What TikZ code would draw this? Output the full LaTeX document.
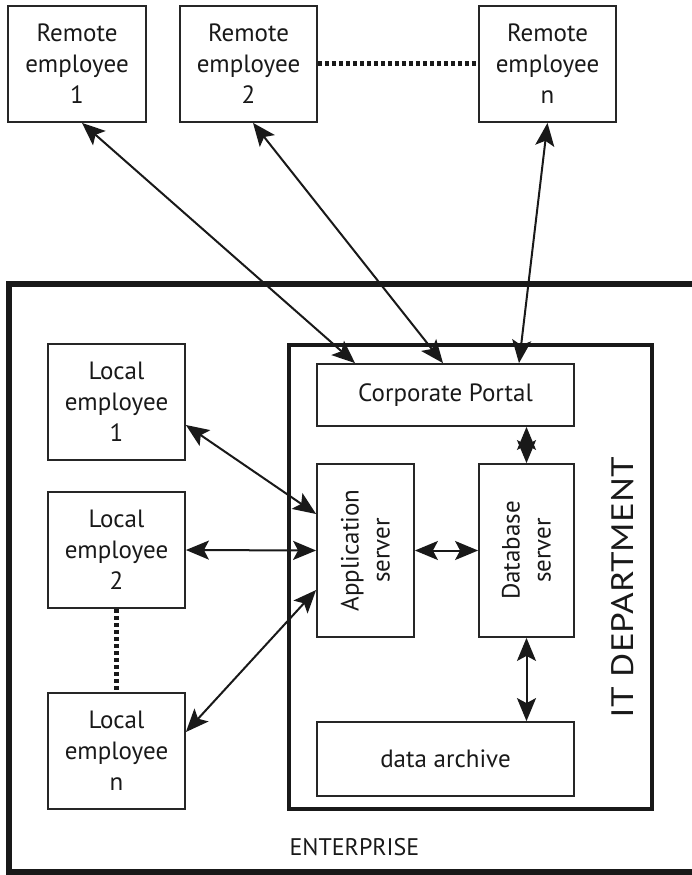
\documentclass[tikz,border=0pt]{standalone}
\usepackage{fontspec}
\setmainfont{PT Sans}
\usetikzlibrary{arrows.meta}
\begin{document}
\begin{tikzpicture}[x=1pt,y=-1pt,
  lbl/.style={font=\fontsize{25}{31}\selectfont, text=black!90, align=center},
  unit/.style={lbl, draw=black!85, line width=1.8pt, inner sep=0pt},
  link/.style={line width=2pt, draw=black!90,
    {Stealth[length=23pt,width=19pt,inset=5pt]}-{Stealth[length=23pt,width=19pt,inset=5pt]}},
  dots/.style={line width=5pt, dash pattern=on 4pt off 3pt, draw=black!90}
]
\useasboundingbox (0,0) rectangle (691,875);

% enterprise frame, open on the right
\draw[line width=6pt, black!90] (700,283.5) -- (9,283.5) -- (9,872) -- (700,872);
\node[lbl, anchor=west, font=\fontsize{24}{30}\selectfont] (ent) at (286,847) {ENTERPRISE};

% IT department frame
\draw[line width=4pt, black!90] (289,345) rectangle (652,809);
\node[lbl, rotate=90, font=\fontsize{31}{36}\selectfont\addfontfeatures{FakeStretch=1.2}] (itd) at (623,588) {IT DEPARTMENT};

% remote employees
\node[unit, minimum width=138pt, minimum height=116pt] (r1) at (77,64) {Remote\\employee\\1};
\node[unit, minimum width=137pt, minimum height=116pt] (r2) at (248.5,64) {Remote\\employee\\2};
\node[unit, minimum width=137pt, minimum height=116pt] (rn) at (547.5,64) {Remote\\employee\\n};

% local employees
\node[unit, minimum width=137pt, minimum height=116pt] (l1) at (116.5,402) {Local\\employee\\1};
\node[unit, minimum width=137pt, minimum height=116pt] (l2) at (116.5,550) {Local\\employee\\2};
\node[unit, minimum width=137pt, minimum height=116pt] (ln) at (116.5,751) {Local\\employee\\n};

% IT department units
\node[unit, minimum width=257pt, minimum height=62pt] (portal) at (445.5,395) {Corporate Portal};
\node[unit, minimum width=97pt, minimum height=173pt] (app) at (365.5,550.5) {};
\node[lbl, rotate=90] (apptxt) at (app.center) {Application\\server};
\node[unit, minimum width=95pt, minimum height=173pt] (db) at (526.5,550.5) {};
\node[lbl, rotate=90] (dbtxt) at (db.center) {Database\\server};
\node[unit, minimum width=257pt, minimum height=74pt] (arch) at (445.5,759) {data archive};

% "and so on" dotted links
\draw[dots] (r2.east) -- (rn.west);
\draw[dots] (l2.south) -- (ln.north);

% remote access through the portal
\draw[link] ([xshift=5pt]r1.south) -- ([xshift=-90.5pt]portal.north);
\draw[link] ([xshift=4.5pt]r2.south) -- ([xshift=-2.5pt]portal.north);
\draw[link] (rn.south) -- ([xshift=73.5pt]portal.north);

% local access to the application server
\draw[link] ([yshift=-23pt]l1.east) -- ([yshift=36.5pt]app.west);
\draw[link] (l2.east) -- (app.west);
\draw[link] ([yshift=19pt]ln.east) -- ([yshift=-39.5pt]app.west);

% internal links
\draw[link] (app.east) -- (db.west);
\draw[link] (db.north |- portal.south) -- (db.north);
\draw[link] (db.south) -- (db.south |- arch.north);
\end{tikzpicture}
\end{document}
